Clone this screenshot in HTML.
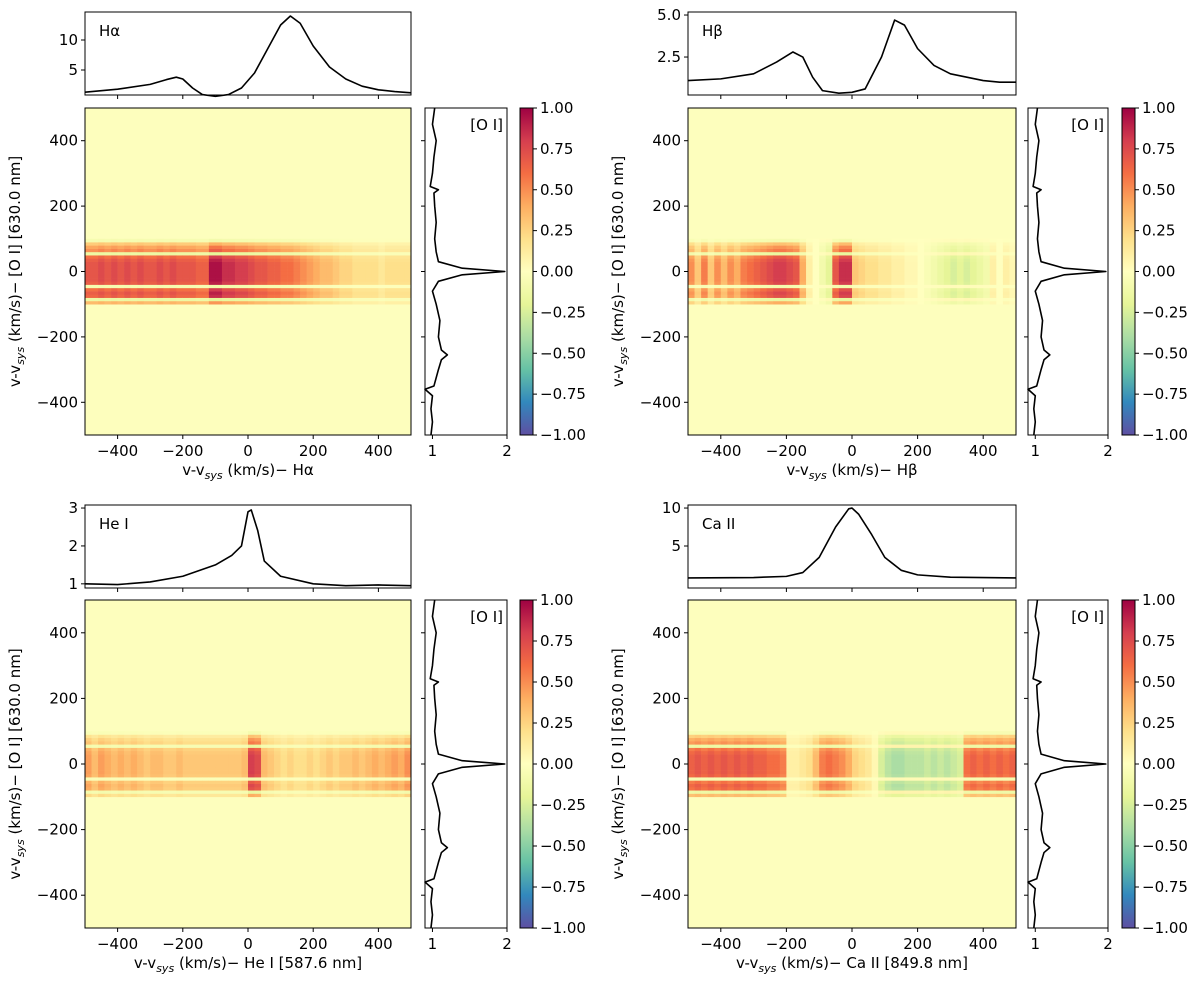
<!DOCTYPE html>
<html><head><meta charset="utf-8">
<style>
body{margin:0;background:#fff;}
svg{display:block;font-family:"DejaVu Sans","Liberation Sans",sans-serif;}
</style></head>
<body>
<svg id="fig" width="1200" height="984" viewBox="0 0 1200 984" xmlns="http://www.w3.org/2000/svg"></svg>
<script>
// ---- data ----
const heatCols = [-500,-480,-460,-440,-420,-400,-380,-360,-340,-320,-300,-280,-260,-240,-220,-200,-180,-160,-140,-120,-100,-80,-60,-40,-20,0,20,40,60,80,100,120,140,160,180,200,220,240,260,280,300,320,340,360,380,400,420,440,460,480];
const heatRows = [-100,-90,-80,-70,-60,-50,-40,-30,-20,-10,0,10,20,30,40,50,60,70,80,90];
const rowWeight = [0.5,-0.2,0.9,0.95,0.85,-0.1,0.95,1.0,1.0,1.0,1.0,1.0,1.0,0.95,0.85,-0.2,0.7,0.6,0.4,-0.1];
const corrHa = [0.7,0.7,0.75,0.7,0.75,0.7,0.75,0.7,0.75,0.7,0.7,0.75,0.7,0.75,0.7,0.7,0.7,0.65,0.65,0.95,0.95,0.85,0.85,0.8,0.8,0.75,0.7,0.7,0.65,0.65,0.6,0.6,0.55,0.5,0.45,0.4,0.35,0.35,0.3,0.25,0.25,0.2,0.2,0.2,0.2,0.15,0.2,0.2,0.2,0.2];
const corrHb = [0.5,0.3,0.55,0.3,0.5,0.35,0.5,0.4,0.55,0.6,0.65,0.7,0.75,0.8,0.8,0.75,0.7,0.4,0.1,0.0,-0.1,-0.2,0.7,0.85,0.85,0.3,0.25,0.2,0.2,0.15,0.15,0.1,0.1,0.05,0.05,0.0,-0.05,-0.1,-0.15,-0.2,-0.25,-0.2,-0.25,-0.2,-0.15,-0.1,0.1,0.0,0.1,0.05];
const corrHe = [0.45,0.35,0.45,0.4,0.35,0.4,0.35,0.4,0.35,0.3,0.35,0.35,0.3,0.3,0.35,0.3,0.3,0.3,0.3,0.3,0.3,0.3,0.3,0.3,0.35,0.8,0.75,0.35,0.3,0.25,0.2,0.25,0.2,0.2,0.25,0.2,0.25,0.3,0.25,0.3,0.3,0.35,0.3,0.35,0.4,0.35,0.4,0.45,0.4,0.5];
const corrCa = [0.65,0.7,0.65,0.7,0.65,0.7,0.65,0.7,0.65,0.7,0.65,0.65,0.6,0.6,0.55,0.1,0.1,0.15,0.2,0.35,0.55,0.6,0.55,0.5,0.4,0.25,0.2,0.15,0.05,-0.25,-0.35,-0.4,-0.4,-0.35,-0.35,-0.35,-0.3,-0.35,-0.3,-0.35,-0.3,-0.25,0.6,0.65,0.6,0.65,0.6,0.65,0.6,0.65];

const haX = [-500,-400,-300,-250,-220,-200,-170,-140,-100,-60,-20,20,60,100,130,160,200,250,300,350,400,450,500];
const haY = [1.3,1.8,2.6,3.4,3.8,3.5,2.0,0.9,0.6,0.9,2.0,4.5,8.5,12.5,14.0,12.8,9.0,5.5,3.5,2.3,1.7,1.4,1.2];
const hbX = [-500,-400,-300,-230,-180,-150,-120,-90,-40,0,40,90,130,160,200,250,300,350,400,450,500];
const hbY = [1.1,1.2,1.5,2.2,2.8,2.5,1.3,0.5,0.35,0.4,0.6,2.5,4.7,4.4,3.0,2.0,1.5,1.3,1.1,1.0,1.0];
const heX = [-500,-400,-300,-200,-100,-50,-20,0,10,30,50,100,200,300,400,500];
const heY = [1.0,0.98,1.05,1.2,1.5,1.75,2.0,2.9,2.95,2.4,1.6,1.2,1.0,0.95,0.97,0.95];
const caX = [-500,-300,-200,-150,-100,-50,-10,0,20,60,100,150,200,300,500];
const caY = [0.8,0.85,1.0,1.5,3.5,7.5,9.9,10.0,9.2,6.5,3.5,1.8,1.2,0.9,0.8];
const oiV = [500,450,400,350,300,260,250,240,200,150,100,60,30,10,0,-10,-30,-60,-100,-150,-200,-240,-255,-270,-300,-350,-360,-380,-420,-460,-500];
const oiF = [1.03,1.0,1.05,1.02,1.0,0.97,1.08,1.02,1.03,1.05,1.03,1.05,1.08,1.4,1.97,1.4,1.08,1.0,1.05,1.1,1.08,1.12,1.2,1.12,1.08,1.02,0.9,1.0,0.98,1.0,0.98];
const velTicks = [-400,-200,0,200,400];
const cbTicks = [1.00,0.75,0.50,0.25,0.00,-0.25,-0.50,-0.75,-1.00];

const NS="http://www.w3.org/2000/svg";
const fig=document.getElementById('fig');
function mk(tag,attrs,parent){const e=document.createElementNS(NS,tag);for(const k in attrs)e.setAttribute(k,attrs[k]);(parent||fig).appendChild(e);return e;}
const spec=['#9e0142','#d53e4f','#f46d43','#fdae61','#fee08b','#ffffbf','#e6f598','#abdda4','#66c2a5','#3288bd','#5e4fa2'];
function hex(h){return [1,3,5].map(i=>parseInt(h.substr(i,2),16));}
function cmap(v){v=Math.max(-1,Math.min(1,v));const t=(1-v)/2*10;const i=Math.min(9,Math.floor(t));const f=t-i;const a=hex(spec[i]),b=hex(spec[i+1]);return 'rgb('+a.map((c,k)=>Math.round(c+(b[k]-c)*f)).join(',')+')';}
function txt(x,y,s,anchor,parent,size){const t=mk('text',{x:x,y:y,'text-anchor':anchor||'middle','font-size':size||15,fill:'#000'},parent);t.textContent=s;return t;}

const defs=mk('defs',{});
const lg=mk('linearGradient',{id:'cbg',x1:0,y1:0,x2:0,y2:1},defs);
spec.forEach((c,i)=>mk('stop',{offset:(i/10),'stop-color':c},lg));

const panels=[
 {name:'halpha',x0:85,x1:411,ty0:12,ty1:95,hy0:108,hy1:435,sx0:425,sx1:507,cx:520,label:'Hα',lbl:['v-v',' (km/s)− Hα'],corr:corrHa,sx:haX,sy:haY,ylim:[0.83,14.67],yt:[5,10],ytl:['5','10']},
 {name:'hbeta',x0:688,x1:1016,ty0:12,ty1:95,hy0:108,hy1:435,sx0:1028,sx1:1108,cx:1122,label:'Hβ',lbl:['v-v',' (km/s)− Hβ'],corr:corrHb,sx:hbX,sy:hbY,ylim:[0.24,5.18],yt:[2.5,5.0],ytl:['2.5','5.0']},
 {name:'hei',x0:85,x1:411,ty0:505,ty1:588,hy0:600,hy1:928,sx0:425,sx1:507,cx:520,label:'He I',lbl:['v-v',' (km/s)− He I [587.6 nm]'],corr:corrHe,sx:heX,sy:heY,ylim:[0.89,3.08],yt:[1,2,3],ytl:['1','2','3']},
 {name:'caii',x0:688,x1:1016,ty0:505,ty1:588,hy0:600,hy1:928,sx0:1028,sx1:1108,cx:1122,label:'Ca II',lbl:['v-v',' (km/s)− Ca II [849.8 nm]'],corr:corrCa,sx:caX,sy:caY,ylim:[-0.53,10.4],yt:[5,10],ytl:['5','10']}
];

panels.forEach(p=>{
 const g=mk('g',{});
 
 
 const X=v=>p.x0+(v+500)/1000*(p.x1-p.x0);
 const Yh=v=>p.hy0+(500-v)/1000*(p.hy1-p.hy0);
 const hm=mk('g',{},g);
 
 
 const bg=mk('rect',{x:p.x0,y:p.hy0,width:p.x1-p.x0,height:p.hy1-p.hy0,fill:'#fdfebd'},hm);
 
 
 heatCols.forEach((cv,i)=>{
  heatRows.forEach((rv,j)=>{
   const val=p.corr[i]*rowWeight[j];
   const r=mk('rect',{x:X(cv),y:Yh(rv+10),width:X(cv+20)-X(cv)+0.3,height:Yh(rv)-Yh(rv+10)+0.3,fill:cmap(val)},hm);
   
   
  });
 });
 mk('rect',{x:p.x0,y:p.hy0,width:p.x1-p.x0,height:p.hy1-p.hy0,fill:'none',stroke:'#000','stroke-width':1},g);
 velTicks.forEach(t=>{
  mk('line',{x1:X(t),x2:X(t),y1:p.hy1,y2:p.hy1+4,stroke:'#000'},g);
  txt(X(t),p.hy1+21,(t<0?'−':'')+Math.abs(t),'middle',g);
  mk('line',{x1:p.x0-4,x2:p.x0,y1:Yh(t),y2:Yh(t),stroke:'#000'},g);
  txt(p.x0-7,Yh(t)+5,(t<0?'−':'')+Math.abs(t),'end',g);
  mk('line',{x1:X(t),x2:X(t),y1:p.ty1,y2:p.ty1+4,stroke:'#000'},g);
 });
 const xl=txt((p.x0+p.x1)/2,p.hy1+40,'','middle',g);
 
 
 const s1=mk('tspan',{},xl);s1.textContent=p.lbl[0];
 const s2=mk('tspan',{'font-size':11,'font-style':'italic',dy:4},xl);s2.textContent='sys';
 const s3=mk('tspan',{dy:-4},xl);s3.textContent=p.lbl[1];
 const yl=mk('text',{transform:'translate('+(p.x0-65)+','+((p.hy0+p.hy1)/2)+') rotate(-90)','text-anchor':'middle','font-size':15},g);
 
 
 const a1=mk('tspan',{},yl);a1.textContent='v-v';
 const a2=mk('tspan',{'font-size':11,'font-style':'italic',dy:4},yl);a2.textContent='sys';
 const a3=mk('tspan',{dy:-4},yl);a3.textContent=' (km/s)− [O I] [630.0 nm]';
 const Xt=v=>p.x0+(v+500)/1000*(p.x1-p.x0);
 const Yt=v=>p.ty1-(v-p.ylim[0])/(p.ylim[1]-p.ylim[0])*(p.ty1-p.ty0);
 mk('rect',{x:p.x0,y:p.ty0,width:p.x1-p.x0,height:p.ty1-p.ty0,fill:'none',stroke:'#000'},g);
 const tl=mk('polyline',{points:p.sx.map((v,i)=>Xt(v)+','+Yt(p.sy[i])).join(' '),fill:'none',stroke:'#000','stroke-width':1.6,'stroke-linejoin':'round'},g);
 
 
 p.yt.forEach((t,i)=>{mk('line',{x1:p.x0-4,x2:p.x0,y1:Yt(t),y2:Yt(t),stroke:'#000'},g);txt(p.x0-7,Yt(t)+5,p.ytl[i],'end',g);});
 const lb=txt(p.x0+14,p.ty0+24,p.label,'start',g);
 
 
 const Xs=f=>p.sx0+(f-0.9)/1.1*(p.sx1-p.sx0);
 mk('rect',{x:p.sx0,y:p.hy0,width:p.sx1-p.sx0,height:p.hy1-p.hy0,fill:'none',stroke:'#000'},g);
 const sl=mk('polyline',{points:oiV.map((v,i)=>Xs(oiF[i])+','+Yh(v)).join(' '),fill:'none',stroke:'#000','stroke-width':1.6,'stroke-linejoin':'round'},g);
 
 
 [1,2].forEach(t=>{mk('line',{x1:Xs(t),x2:Xs(t),y1:p.hy1,y2:p.hy1+4,stroke:'#000'},g);txt(Xs(t),p.hy1+21,String(t),'middle',g);});
 velTicks.forEach(t=>mk('line',{x1:p.sx0-4,x2:p.sx0,y1:Yh(t),y2:Yh(t),stroke:'#000'},g));
 txt(p.sx1-4,p.hy0+22,'[O I]','end',g);
 const cb=mk('rect',{x:p.cx,y:p.hy0,width:13,height:p.hy1-p.hy0,fill:'url(#cbg)',stroke:'#000'},g);
 
 
 cbTicks.forEach(t=>{const y=p.hy0+(1-t)/2*(p.hy1-p.hy0);mk('line',{x1:p.cx+13,x2:p.cx+17,y1:y,y2:y,stroke:'#000'},g);txt(p.cx+20,y+5,(t<0?'−':'')+Math.abs(t).toFixed(2),'start',g);});
});
</script>
</body></html>
